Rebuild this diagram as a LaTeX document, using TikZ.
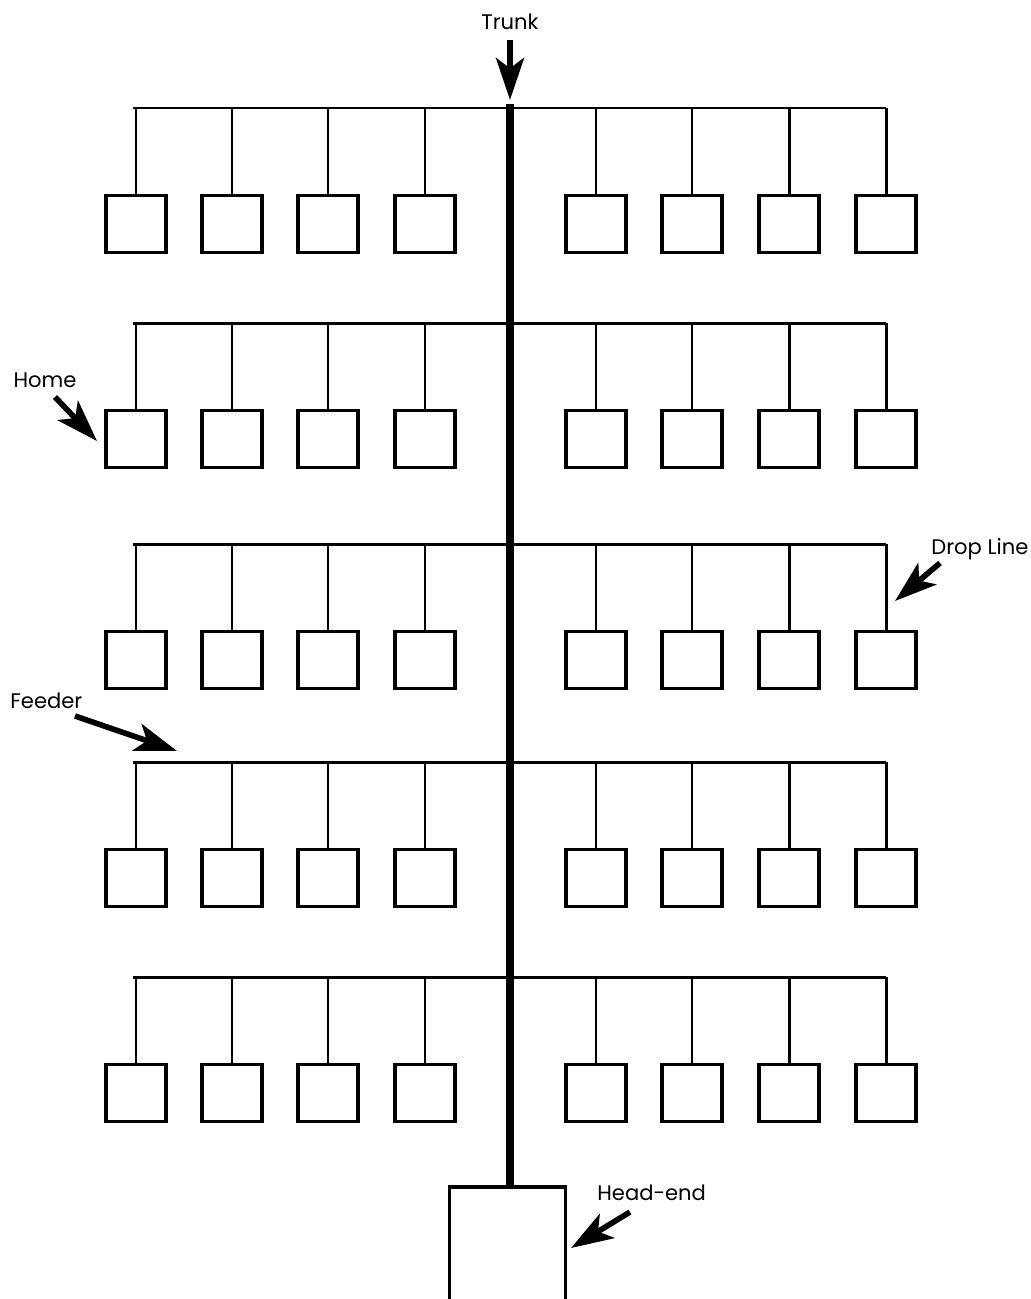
\documentclass[tikz,border=0pt]{standalone}
\usepackage{fontspec}
\setmainfont{Poppins}
\usetikzlibrary{arrows.meta}
\tikzset{
  home/.style={draw, line width=2.1pt, minimum width=34.5pt, minimum height=32.5pt, inner sep=0pt, fill=white},
  wire/.style={line width=1.7pt},
  trunkline/.style={line width=5pt},
  pointer/.style={line width=3.2pt, -{Stealth[length=24pt,width=16pt,inset=6pt]}},
  lbl/.style={font=\fontsize{12}{14}\selectfont, inner sep=0pt}
}
\begin{document}
\begin{tikzpicture}[x=0.02cm,y=-0.02cm]
\useasboundingbox (0,0) rectangle (1031,1299);
\clip (0,0) rectangle (1031,1299);
% head-end
\node[draw, line width=2.1pt, minimum width=66pt, minimum height=80pt, inner sep=0pt, anchor=north] (headend) at (507.5,1185) {};
% rows
\foreach \r/\yf in {1/108,2/323,3/544,4/762,5/977}{
  \coordinate (fl\r) at (133,\yf);
  \coordinate (fr\r) at (886,\yf);
  \draw[wire] (fl\r) -- (fr\r);
  \foreach \c/\cx in {1/136,2/232,3/328,4/425,5/596,6/692,7/789,8/886}{
    \node[home] (h\r-\c) at (\cx,\yf+116) {};
    \draw[wire] (h\r-\c.north) -- (h\r-\c.north |- fl\r);
  }
}
% trunk
\coordinate (trunktop) at (510,104);
\draw[trunkline] (trunktop) -- (trunktop |- headend.north);
% labels and pointers
\node[lbl] (trunk) at (510,22) {Trunk};
\coordinate (trunktip) at (510,100);
\draw[pointer] (trunk.south |- 0,40) -- (trunktip);

\node[lbl] (homel) at (45,380) {Home};
\coordinate (hometip) at (97,441);
\draw[pointer] (55,397) -- (hometip);

\node[lbl, anchor=west] (dropl) at (931,549) {Drop Line};
\coordinate (droptip) at (895,601);
\draw[pointer] (940,563) -- (droptip);

\node[lbl, anchor=west] (feederl) at (10,701) {Feeder};
\coordinate (feedtip) at (177,751);
\draw[pointer] (75,716) -- (feedtip);

\node[lbl, anchor=west] (headl) at (597,1193) {Head-end};
\coordinate (headtip) at (571,1248);
\draw[pointer] (630,1212) -- (headtip);
\end{tikzpicture}
\end{document}
